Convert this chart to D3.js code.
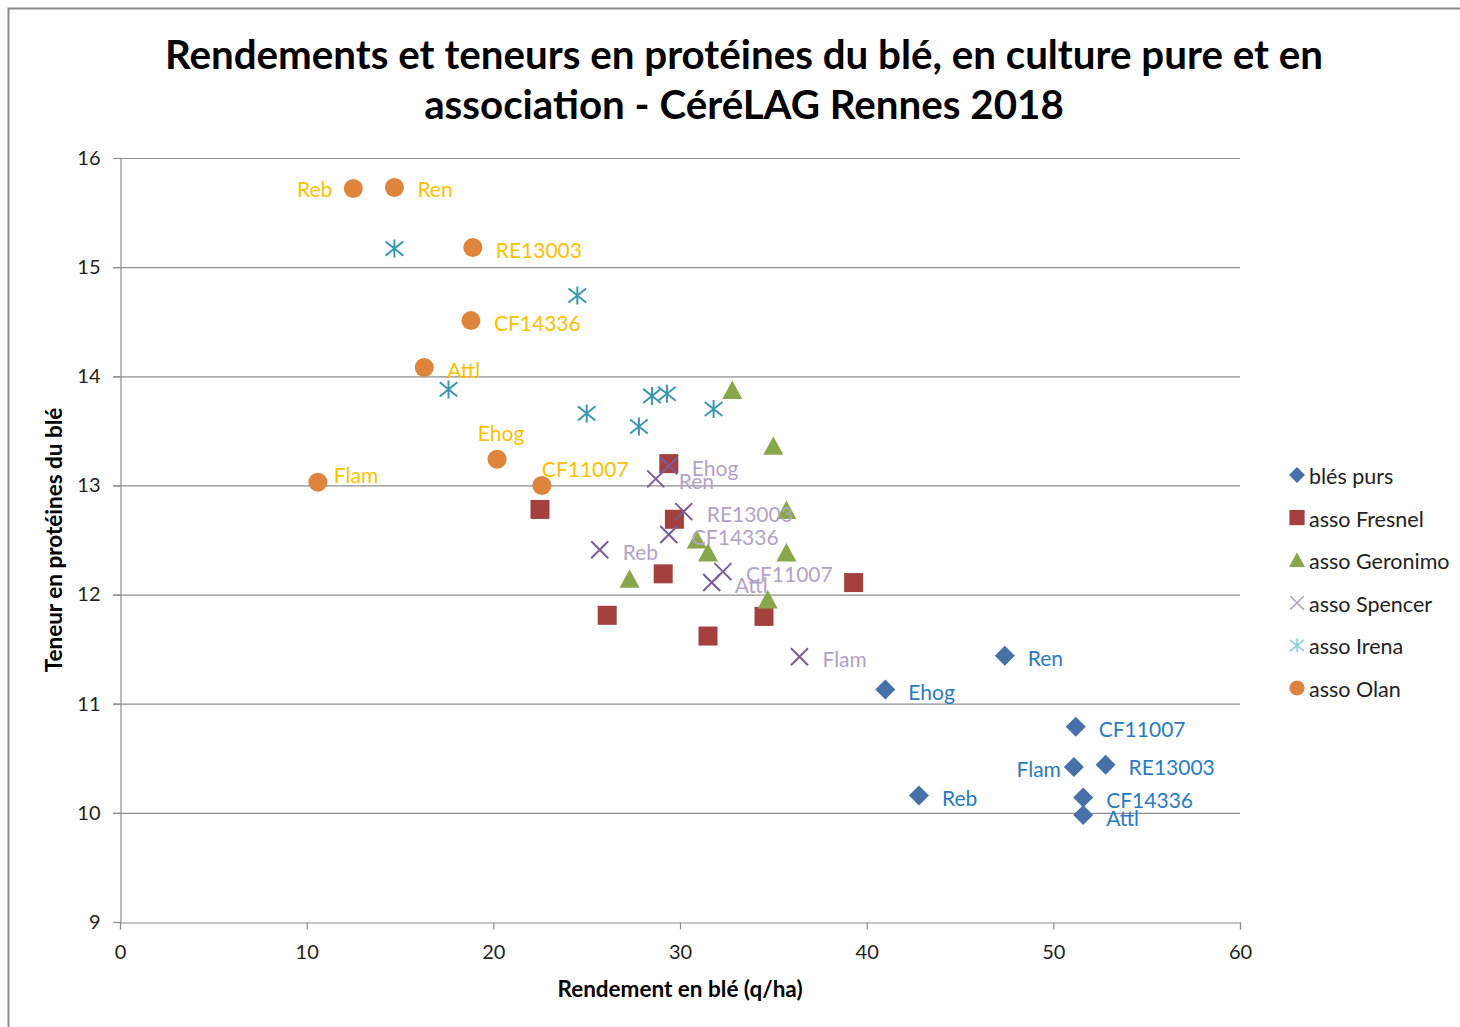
<!DOCTYPE html>
<html>
<head>
<meta charset="utf-8">
<script src="https://cdn.jsdelivr.net/npm/d3@7"></script>
<style>
  body { margin: 0; background: #fff; }
  text { font-family: Lato, "Open Sans", sans-serif; }
</style>
</head>
<body>
<svg width="1460" height="1027"></svg>
<script>
// data
let varieties = ['Reb', 'Ren', 'RE13003', 'CF14336', 'Attl', 'Ehog', 'CF11007', 'Flam'];

let blesPursX = [42.8, 47.4, 52.8, 51.6, 51.6, 41.0, 51.2, 51.1];
let blesPursY = [10.16, 11.44, 10.44, 10.14, 9.98, 11.13, 10.79, 10.42];

let fresnelX = [22.5, 29.4, 29.7, 29.1, 26.1, 31.5, 34.5, 39.3];
let fresnelY = [12.78, 13.20, 12.69, 12.19, 11.81, 11.62, 11.80, 12.11];

let geronimoX = [32.8, 35.0, 35.7, 30.9, 31.5, 35.7, 27.3, 34.7];
let geronimoY = [13.87, 13.36, 12.77, 12.50, 12.38, 12.38, 12.14, 11.95];

let spencerX = [25.7, 28.7, 30.2, 29.4, 31.7, 29.4, 32.3, 36.4];
let spencerY = [12.41, 13.06, 12.76, 12.55, 12.11, 13.18, 12.21, 11.43];

let irenaX = [14.7, 24.5, 17.6, 25.0, 28.5, 29.3, 27.8, 31.8];
let irenaY = [15.17, 14.74, 13.88, 13.66, 13.82, 13.84, 13.54, 13.70];

let olanX = [12.5, 14.7, 18.9, 18.8, 16.3, 20.2, 22.6, 10.6];
let olanY = [15.72, 15.73, 15.18, 14.51, 14.08, 13.24, 13.00, 13.03];

let xTicks = [0, 10, 20, 30, 40, 50, 60];
let yTicks = [9, 10, 11, 12, 13, 14, 15, 16];

let titleLines = ['Rendements et teneurs en protéines du blé, en culture pure et en',
                  'association - CéréLAG Rennes 2018'];

// series: name, values, marker, colours, which labels are shown
let series = [
    { name: 'blés purs', xs: blesPursX, ys: blesPursY, marker: 'diamond', color: '#4670a8', legendColor: '#4670a8', labelColor: '#2a7bc4', labels: true },
    { name: 'asso Fresnel', xs: fresnelX, ys: fresnelY, marker: 'square', color: '#a4403d', legendColor: '#a4403d', labels: false },
    { name: 'asso Geronimo', xs: geronimoX, ys: geronimoY, marker: 'triangle', color: '#88a74b', legendColor: '#88a74b', labels: false },
    { name: 'asso Spencer', xs: spencerX, ys: spencerY, marker: 'x', color: '#7a5c9b', legendColor: '#b3a2c7', labelColor: '#b3a2c7', labels: true },
    { name: 'asso Irena', xs: irenaX, ys: irenaY, marker: 'star', color: '#3b98b0', legendColor: '#8ccfe0', labels: false },
    { name: 'asso Olan', xs: olanX, ys: olanY, marker: 'circle', color: '#df843d', legendColor: '#df843d', labelColor: '#ffc000', labels: true }
];

// label placement tweaks (relative to the point)
let labelOffsets = {
    'blés purs:Flam': { anchor: 'end', dx: -13, dy: 1 },
    'asso Olan:Reb': { anchor: 'end', dx: -21, dy: 0 },
    'asso Olan:Ren': { dx: 23, dy: 1 },
    'asso Olan:Flam': { dx: 16, dy: -8 },
    'asso Olan:Ehog': { anchor: 'middle', dx: 4, dy: -27 },
    'asso Olan:CF11007': { anchor: 'start', dx: 0, dy: -17 }
};

let svg = d3.select('svg');
let margin = { left: 120, right: 220, top: 158, bottom: 105 };
let width = +svg.attr('width');
let height = +svg.attr('height');

// chart frame
svg.append('path')
    .attr('d', 'M8.5,1027 L8.5,8.5 L1460,8.5')
    .attr('fill', 'none')
    .attr('stroke', '#8c8c8c')
    .attr('stroke-width', 2);

let x = d3.scaleLinear()
    .domain([0, 60])
    .range([margin.left, width - margin.right]);

let y = d3.scaleLinear()
    .domain([9, 16])
    .range([height - margin.bottom, margin.top]);

// gridlines
svg.append('g')
    .selectAll('line').data(yTicks.filter(d => d > 9))
    .enter().append('line')
    .attr('x1', x(0) - 7).attr('x2', x(60))
    .attr('y1', d => y(d) + 0.5).attr('y2', d => y(d) + 0.5)
    .attr('stroke', '#8e8e8e')
    .attr('stroke-width', 1.2);

// axes
let xAxis = svg.append('g')
    .attr('transform', `translate(0,${y(9) + 0.5})`)
    .call(d3.axisBottom(x).tickValues(xTicks).tickSize(7).tickPadding(15).tickFormat(d3.format('d')));

let yAxis = svg.append('g')
    .attr('transform', `translate(${x(0) + 0.5},0)`)
    .call(d3.axisLeft(y).tickValues(yTicks).tickSize(7).tickPadding(13).tickFormat(d3.format('d')));

[xAxis, yAxis].forEach(a => {
    a.select('.domain').attr('stroke', '#8e8e8e').attr('stroke-width', 1.2);
    a.selectAll('.tick line').attr('stroke', '#8e8e8e').attr('stroke-width', 1.2);
    a.selectAll('.tick text')
        .attr('font-family', 'Lato, sans-serif')
        .attr('font-size', 20)
        .attr('fill', '#222');
});

// title
svg.append('g').selectAll('text').data(titleLines)
    .enter().append('text')
    .attr('x', 744)
    .attr('y', (_, i) => 53 + i * 50)
    .attr('text-anchor', 'middle')
    .attr('dominant-baseline', 'central')
    .attr('font-size', 40.3)
    .attr('font-weight', 'bold')
    .attr('fill', '#000')
    .text(d => d);

// axis titles
svg.append('text')
    .attr('x', (x(0) + x(60)) / 2)
    .attr('y', 988)
    .attr('text-anchor', 'middle')
    .attr('dominant-baseline', 'central')
    .attr('font-size', 22.5)
    .attr('font-weight', 'bold')
    .text('Rendement en blé (q/ha)');

svg.append('text')
    .attr('transform', `translate(53,${(y(9) + y(16)) / 2}) rotate(-90)`)
    .attr('text-anchor', 'middle')
    .attr('dominant-baseline', 'central')
    .attr('font-size', 22.5)
    .attr('font-weight', 'bold')
    .text('Teneur en protéines du blé');

// marker drawing
function drawMarker(g, kind, color, s) {
    s = s || 1;
    if (kind === 'diamond') {
        let r = 10 * s;
        g.append('path').attr('d', `M0,${-r}L${r},0L0,${r}L${-r},0Z`).attr('fill', color);
    } else if (kind === 'square') {
        let r = 9.5 * s;
        g.append('rect').attr('x', -r).attr('y', -r).attr('width', 2 * r).attr('height', 2 * r).attr('fill', color);
    } else if (kind === 'triangle') {
        let r = 10 * s;
        g.append('path').attr('d', `M0,${-r}L${r},${r * 0.85}L${-r},${r * 0.85}Z`).attr('fill', color);
    } else if (kind === 'circle') {
        g.append('circle').attr('r', 9.5 * s).attr('fill', color);
    } else if (kind === 'x') {
        let r = 8.5 * s;
        g.append('path').attr('d', `M${-r},${-r}L${r},${r}M${r},${-r}L${-r},${r}`)
            .attr('stroke', color).attr('stroke-width', 2 * s).attr('fill', 'none');
    } else if (kind === 'star') {
        let r = 9 * s;
        let a = r * 0.98;
        g.append('path').attr('d', `M0,${-r}L0,${r}M${-a},${-a * 0.8}L${a},${a * 0.8}M${a},${-a * 0.8}L${-a},${a * 0.8}`)
            .attr('stroke', color).attr('stroke-width', 2 * s).attr('fill', 'none');
    }
}

// draw series
let gPlot = svg.append('g');
series.forEach(ser => {
    let pts = ser.xs.map((v, i) => ({ x: v, y: ser.ys[i], name: varieties[i] }));
    let gs = gPlot.append('g');
    gs.selectAll('g').data(pts).enter().append('g')
        .attr('transform', d => `translate(${x(d.x)},${y(d.y)})`)
        .each(function () { drawMarker(d3.select(this), ser.marker, ser.color); });
    ser.pts = pts;
});

// data labels on top
series.filter(s => s.labels).forEach(ser => {
    gPlot.append('g').selectAll('text').data(ser.pts).enter().append('text')
        .each(function (d) {
            let o = labelOffsets[ser.name + ':' + d.name] || {};
            d3.select(this)
                .attr('x', x(d.x) + (o.dx !== undefined ? o.dx : 23))
                .attr('y', y(d.y) + (o.dy !== undefined ? o.dy : 2))
                .attr('text-anchor', o.anchor || 'start');
        })
        .attr('dominant-baseline', 'central')
        .attr('font-size', 21)
        .attr('fill', ser.labelColor)
        .text(d => d.name);
});

// legend
let legend = svg.append('g').attr('transform', 'translate(1297,475)');
let rows = legend.selectAll('g').data(series).enter().append('g')
    .attr('transform', (_, i) => `translate(0,${i * 42.6})`);
rows.each(function (ser) {
    drawMarker(d3.select(this), ser.marker, ser.legendColor, 0.8);
});
rows.append('text')
    .attr('x', 12)
    .attr('y', 1)
    .attr('dominant-baseline', 'central')
    .attr('font-size', 21.5)
    .attr('fill', '#222')
    .text(d => d.name);
</script>
</body>
</html>
